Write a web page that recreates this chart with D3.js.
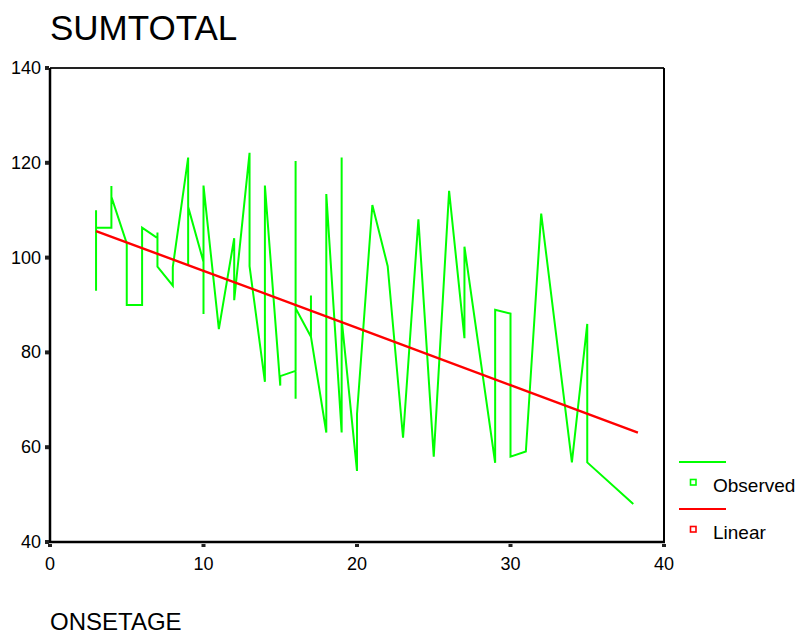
<!DOCTYPE html>
<html>
<head>
<meta charset="utf-8">
<script src="https://cdn.jsdelivr.net/npm/d3@7"></script>
<style>
  body { margin: 0; background: #fff; }
  text { font-family: "Liberation Sans", Arial, sans-serif; fill: #000; }
</style>
</head>
<body>
<svg id="chart" width="796" height="634"></svg>
<script>
// observed points, in the order SPSS joins them (sorted by ONSETAGE)
const onsetAge = [3, 3, 3, 4, 4, 4, 5, 5, 6, 6, 7, 7, 7, 8, 8, 9, 9, 9, 10, 10, 10, 11, 12, 12,
  13, 13, 14, 14, 15, 15, 16, 16, 16, 16, 17, 17, 17, 18, 18, 19, 19, 19, 20, 20, 21, 22, 23,
  24, 25, 26, 27, 27, 29, 29, 30, 30, 31, 32, 34, 35, 35, 38];
const sumTotal = [110, 93, 106.3, 106.3, 115.1, 112.8, 103, 90, 90, 106.3, 104.1, 105.3, 98.1,
  94.1, 98, 121.1, 98.4, 110.7, 99.1, 88.1, 115.2, 84.9, 104.1, 91, 122.1, 98.2, 73.8, 115.2,
  73, 75, 76.1, 120.4, 70.2, 89.3, 83.3, 92, 83.3, 63.1, 113.4, 63.1, 121.1, 87, 55, 67, 111.1,
  98.2, 62, 108.1, 58, 114.1, 83, 102.3, 56.7, 89, 88.2, 58, 59.1, 109.3, 56.8, 86, 56.8, 48];

// linear fit
const linearX = [3, 10, 20, 30, 38.3];
const linearY = [105.6, 97.2, 85.2, 73.1, 63.1];

const xTicks = [0, 10, 20, 30, 40];
const yTicks = [40, 60, 80, 100, 120, 140];
const legendItems = ['Observed', 'Linear'];
const legendColors = ['#00ff00', '#ff0000'];

const margins = { left: 50, top: 68, right: 664, bottom: 542 };

const svg = d3.select('#chart');
const x = d3.scaleLinear().domain([0, 40]).range([margins.left, margins.right]);
const y = d3.scaleLinear().domain([40, 140]).range([margins.bottom, margins.top]);

svg.append('text')
  .attr('x', 50).attr('y', 40)
  .style('font-size', '35px')
  .text('SUMTOTAL');

svg.append('text')
  .attr('x', 50).attr('y', 630)
  .style('font-size', '24px')
  .text('ONSETAGE');

// frame
svg.append('line')
  .attr('x1', margins.left).attr('x2', margins.right)
  .attr('y1', margins.top).attr('y2', margins.top)
  .attr('stroke', '#222').attr('stroke-width', 2);
svg.append('line')
  .attr('x1', margins.right).attr('x2', margins.right)
  .attr('y1', margins.top).attr('y2', margins.bottom)
  .attr('stroke', '#000').attr('stroke-width', 2);

// data lines
const observed = onsetAge.map((d, i) => [d, sumTotal[i]]);
const linear = linearX.map((d, i) => [d, linearY[i]]);
const line = d3.line().x(d => x(d[0])).y(d => y(d[1]));

svg.append('path')
  .datum(observed)
  .attr('d', line)
  .attr('fill', 'none')
  .attr('stroke', '#00ff00')
  .attr('stroke-width', 2)
  .attr('stroke-linejoin', 'miter');

svg.append('path')
  .datum(linear)
  .attr('d', line)
  .attr('fill', 'none')
  .attr('stroke', '#ff0000')
  .attr('stroke-width', 2.4);

// axes
svg.append('line')
  .attr('x1', margins.left).attr('x2', margins.left)
  .attr('y1', margins.top).attr('y2', margins.bottom + 1)
  .attr('stroke', '#000').attr('stroke-width', 2.5);
svg.append('line')
  .attr('x1', margins.left - 1).attr('x2', margins.right + 1)
  .attr('y1', margins.bottom).attr('y2', margins.bottom)
  .attr('stroke', '#000').attr('stroke-width', 2.5);

svg.selectAll('.ytick')
  .data(yTicks)
.enter().append('rect')
  .attr('class', 'ytick')
  .attr('x', margins.left - 5)
  .attr('y', d => y(d) - 2)
  .attr('width', 4).attr('height', 4)
  .attr('fill', '#222');

svg.selectAll('.ylabel')
  .data(yTicks)
.enter().append('text')
  .attr('class', 'ylabel')
  .attr('x', 41)
  .attr('y', d => y(d) + 6)
  .attr('text-anchor', 'end')
  .style('font-size', '18px')
  .text(d => d);

svg.selectAll('.xtick')
  .data(xTicks)
.enter().append('rect')
  .attr('class', 'xtick')
  .attr('x', d => x(d) - 2)
  .attr('y', margins.bottom + 2)
  .attr('width', 4).attr('height', 3)
  .attr('fill', '#222');

svg.selectAll('.xlabel')
  .data(xTicks)
.enter().append('text')
  .attr('class', 'xlabel')
  .attr('x', d => x(d))
  .attr('y', 570)
  .attr('text-anchor', 'middle')
  .style('font-size', '18px')
  .text(d => d);

// legend
const legend = svg.selectAll('.legend')
  .data(legendItems)
.enter().append('g')
  .attr('class', 'legend')
  .attr('transform', (d, i) => 'translate(0,' + (462 + i * 47) + ')');

legend.append('line')
  .attr('x1', 679).attr('x2', 726)
  .attr('y1', 0).attr('y2', 0)
  .attr('stroke', (d, i) => legendColors[i])
  .attr('stroke-width', 2);

legend.append('rect')
  .attr('x', 690.5).attr('y', 17.5)
  .attr('width', 5.5).attr('height', 5.5)
  .attr('fill', 'none')
  .attr('stroke', (d, i) => legendColors[i])
  .attr('stroke-width', 1.6);

legend.append('text')
  .attr('x', 713).attr('y', 30)
  .style('font-size', '19px')
  .text(d => d);
</script>
</body>
</html>
